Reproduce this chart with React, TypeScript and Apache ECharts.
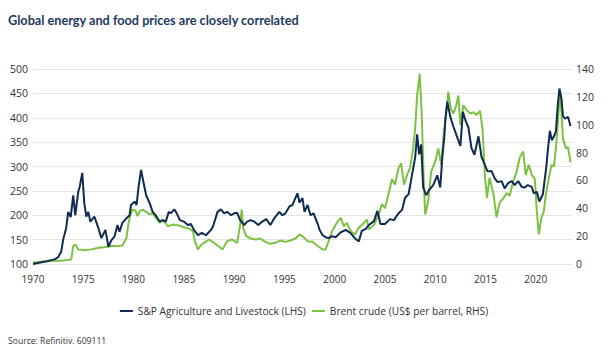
import React, { useEffect, useRef } from "react";
import * as echarts from "echarts";

const titleText = "Global energy and food prices are closely correlated";
const sourceText = "Source: Refinitiv. 609111";
const seriesNames = ["S&P Agriculture and Livestock (LHS)", "Brent crude (US$ per barrel, RHS)"];

const agYears = [
  1970.0, 1970.5, 1971.0, 1971.5, 1971.8, 1972.2, 1972.5, 1972.8, 1973.0, 1973.3, 1973.5, 1973.75,
  1974.0, 1974.2, 1974.5, 1974.65, 1974.9, 1975.1, 1975.3, 1975.5, 1975.7, 1976.1, 1976.5, 1976.8,
  1977.2, 1977.5, 1977.8, 1978.1, 1978.4, 1978.6, 1978.9, 1979.3, 1979.6, 1979.75, 1980.1, 1980.3,
  1980.5, 1980.75, 1981.0, 1981.25, 1981.6, 1981.9, 1982.2, 1982.6, 1982.9, 1983.2, 1983.5, 1983.7,
  1984.05, 1984.3, 1984.6, 1985.0, 1985.4, 1985.7, 1986.0, 1986.4, 1986.8, 1987.2, 1987.7, 1987.9,
  1988.35, 1988.7, 1989.0, 1989.3, 1989.7, 1990.0, 1990.3, 1990.6, 1991.0, 1991.3, 1991.65, 1992.0,
  1992.4, 1992.8, 1993.2, 1993.6, 1994.0, 1994.5, 1994.8, 1995.1, 1995.5, 1995.8, 1996.0, 1996.3,
  1996.5, 1996.8, 1997.0, 1997.3, 1997.6, 1997.9, 1998.3, 1998.5, 1998.8, 1999.1, 1999.4, 1999.75,
  2000.1, 2000.6, 2001.1, 2001.6, 2002.0, 2002.4, 2002.7, 2003.1, 2003.4, 2003.9, 2004.25, 2004.55,
  2005.0, 2005.5, 2005.9, 2006.2, 2006.4, 2006.7, 2007.0, 2007.35, 2007.7, 2008.0, 2008.2, 2008.4,
  2008.6, 2008.8, 2009.1, 2009.4, 2009.8, 2010.2, 2010.5, 2010.7, 2010.9, 2011.0, 2011.2, 2011.5,
  2011.8, 2012.1, 2012.5, 2012.75, 2013.0, 2013.3, 2013.6, 2013.9, 2014.3, 2014.6, 2014.9, 2015.2,
  2015.6, 2015.9, 2016.2, 2016.6, 2016.9, 2017.25, 2017.6, 2017.9, 2018.25, 2018.6, 2018.9, 2019.2,
  2019.6, 2019.8, 2020.1, 2020.35, 2020.7, 2021.05, 2021.2, 2021.4, 2021.6, 2021.8, 2022.0, 2022.2,
  2022.35, 2022.55, 2022.7, 2022.9, 2023.2, 2023.45,
];
const agValues = [
  100, 102, 104, 106, 108, 110, 114, 125, 150, 174, 207, 196,
  241, 200, 248, 259, 287, 225, 197, 207, 187, 197, 174, 153,
  170, 135, 149, 156, 180, 166, 185, 194, 200, 221, 228, 221,
  259, 293, 266, 241, 225, 207, 200, 187, 190, 187, 207, 204,
  212, 204, 190, 187, 180, 182, 170, 159, 164, 159, 170, 177,
  207, 212, 204, 207, 200, 204, 205, 190, 180, 187, 190, 187,
  180, 187, 192, 180, 194, 207, 200, 204, 218, 221, 231, 245,
  226, 235, 207, 221, 200, 204, 183, 170, 159, 155, 153, 157,
  155, 165, 170, 163, 153, 146, 168, 172, 180, 188, 209, 182,
  182, 192, 190, 200, 205, 211, 236, 243, 284, 318, 366, 325,
  345, 257, 241, 252, 262, 282, 257, 318, 360, 395, 433, 402,
  382, 365, 342, 412, 395, 380, 338, 324, 362, 320, 305, 290,
  291, 276, 268, 270, 255, 266, 270, 262, 270, 258, 257, 262,
  258, 245, 248, 228, 243, 300, 334, 373, 354, 362, 372, 430,
  460, 440, 404, 398, 402, 383,
];

const brentYears = [
  1970.0, 1970.5, 1971.0, 1971.8, 1972.5, 1973.0, 1973.8, 1974.0, 1974.2, 1974.5, 1975.1, 1975.8,
  1976.5, 1977.1, 1977.8, 1978.4, 1978.9, 1979.3, 1979.5, 1979.7, 1979.9, 1980.2, 1980.4, 1980.6,
  1980.9, 1981.25, 1981.6, 1981.9, 1982.2, 1982.6, 1982.9, 1983.4, 1983.9, 1984.4, 1985.0, 1985.5,
  1985.9, 1986.1, 1986.4, 1986.7, 1987.0, 1987.5, 1988.0, 1988.4, 1988.85, 1989.3, 1989.8, 1990.3,
  1990.6, 1990.75, 1990.9, 1991.2, 1991.65, 1992.15, 1992.6, 1993.1, 1993.6, 1994.1, 1994.6, 1995.1,
  1995.6, 1996.1, 1996.5, 1996.9, 1997.3, 1997.8, 1998.3, 1998.8, 1999.1, 1999.4, 1999.75, 2000.2,
  2000.6, 2000.9, 2001.2, 2001.6, 2002.0, 2002.4, 2002.9, 2003.2, 2003.4, 2003.9, 2004.4, 2004.7,
  2005.0, 2005.35, 2005.7, 2006.0, 2006.35, 2006.6, 2006.9, 2007.2, 2007.5, 2007.8, 2008.0, 2008.2,
  2008.45, 2008.65, 2008.85, 2009.0, 2009.3, 2009.6, 2010.0, 2010.3, 2010.6, 2010.8, 2011.1, 2011.3,
  2011.55, 2011.8, 2012.1, 2012.3, 2012.5, 2012.8, 2013.1, 2013.5, 2013.8, 2014.1, 2014.45, 2014.7,
  2014.95, 2015.15, 2015.4, 2015.8, 2016.1, 2016.4, 2016.8, 2017.1, 2017.4, 2017.75, 2018.1, 2018.4,
  2018.75, 2019.0, 2019.3, 2019.6, 2019.9, 2020.1, 2020.3, 2020.55, 2020.8, 2021.0, 2021.3, 2021.55,
  2021.8, 2022.0, 2022.2, 2022.4, 2022.55, 2022.7, 2023.0, 2023.2, 2023.45,
];
const brentValues = [
  1.3, 1.4, 1.8, 2.1, 2.4, 2.6, 3.3, 12.9, 14, 10.5, 9.8, 10.5,
  11.7, 12.1, 12.9, 12.9, 13.3, 18.8, 29.5, 35.5, 39, 38.3, 34.3, 37.9,
  39, 37.4, 35.5, 36.7, 33.1, 29.5, 31.9, 27.1, 28.3, 27.9, 26.4, 25.5,
  23.6, 16.4, 10.5, 13.5, 15.2, 17.6, 15.2, 12.9, 10.5, 16.4, 17.6, 15.2,
  28.3, 39, 25.9, 20, 18.3, 17.6, 18.3, 15.9, 14.5, 15.2, 16.9, 15.9,
  16.9, 18.3, 21.2, 19.3, 16.4, 15.9, 12.9, 10.5, 10.5, 16.4, 23.6, 29.5,
  33.1, 27.1, 29.5, 23.6, 21.2, 26, 29.5, 31.9, 25, 28, 36, 43,
  40, 50, 61, 57, 69, 72.4, 57, 64, 69, 83, 97, 121,
  136.6, 109, 61.7, 35.5, 45, 66.4, 73.6, 83, 71.2, 90.2, 109, 123.6,
  111.6, 108, 114, 121, 99.8, 114, 110.5, 108, 109, 107, 110, 97.4,
  62, 47.4, 62, 49.8, 33.5, 44, 47.4, 50.9, 49, 59.3, 66.4, 76.5,
  80.7, 64, 71.2, 64, 61, 38, 21.2, 33, 38, 50, 61.7, 71.2,
  70, 83, 102, 123.6, 109, 90, 83, 84, 73,
];

const xTicks = { min: 1970, max: 2023.6, interval: 5 };
const leftTicks = { min: 100, max: 500, interval: 50 };
const rightTicks = { min: 0, max: 140, interval: 20 };

const NAVY = "#102b52";
const GREEN = "#7cc242";
const FONT = "'Open Sans', 'DejaVu Sans', sans-serif";

export default function App() {
  const ref = useRef<HTMLDivElement>(null);
  useEffect(() => {
    if (!ref.current) return;
    const chart = echarts.init(ref.current, undefined, { renderer: "svg" });
    const agData = agYears.map((y, i) => [y, agValues[i]]);
    const brentData = brentYears.map((y, i) => [y, brentValues[i]]);
    chart.setOption({
      animation: false,
      backgroundColor: "#ffffff",
      textStyle: { fontFamily: FONT },
      grid: { left: 33, right: 36, top: 69, bottom: 97, containLabel: false },
      graphic: [
        {
          type: "text",
          left: 8,
          top: 13,
          style: {
            text: titleText,
            fill: "#1c3a5e",
            font: "bold 12.7px Lato, 'Open Sans', sans-serif",
          },
        },
        {
          type: "text",
          left: 8,
          top: 336,
          style: {
            text: sourceText,
            fill: "#333333",
            font: "8.6px 'Open Sans', sans-serif",
          },
        },
      ],
      legend: {
        data: seriesNames,
        top: 301,
        left: "center",
        icon: "rect",
        itemWidth: 13,
        itemHeight: 2,
        itemGap: 6,
        textStyle: { fontSize: 10.2, color: "#333333", fontFamily: FONT },
      },
      xAxis: {
        type: "value",
        min: xTicks.min,
        max: xTicks.max,
        interval: xTicks.interval,
        axisLine: { show: false },
        axisTick: { show: false },
        splitLine: { show: false },
        axisLabel: {
          fontSize: 10,
          color: "#333333",
          margin: 10,
          fontFamily: FONT,
          showMaxLabel: false,
          formatter: (v: number) => (Number.isInteger(v) ? String(v) : ""),
        },
      },
      yAxis: [
        {
          type: "value",
          min: leftTicks.min,
          max: leftTicks.max,
          interval: leftTicks.interval,
          axisLine: { show: false },
          axisTick: { show: false },
          splitLine: { show: true, lineStyle: { color: "#e4e4e4", width: 1 } },
          axisLabel: { fontSize: 10.5, color: "#333333", margin: 5, fontFamily: FONT },
        },
        {
          type: "value",
          min: rightTicks.min,
          max: rightTicks.max,
          interval: rightTicks.interval,
          position: "right",
          axisLine: { show: false },
          axisTick: { show: false },
          splitLine: { show: false },
          axisLabel: { fontSize: 10.5, color: "#333333", margin: 4, fontFamily: FONT },
        },
      ],
      series: [
        {
          name: seriesNames[1],
          type: "line",
          yAxisIndex: 1,
          data: brentData,
          showSymbol: false,
          symbol: "none",
          lineStyle: { color: GREEN, width: 2 },
          itemStyle: { color: GREEN },
        },
        {
          name: seriesNames[0],
          type: "line",
          yAxisIndex: 0,
          data: agData,
          showSymbol: false,
          symbol: "none",
          lineStyle: { color: NAVY, width: 2 },
          itemStyle: { color: NAVY },
        },
      ],
    });
    return () => chart.dispose();
  }, []);
  return (
    <div
      ref={ref}
      style={{ position: "fixed", left: 0, top: 0, width: 608, height: 361, background: "#fff" }}
    />
  );
}
